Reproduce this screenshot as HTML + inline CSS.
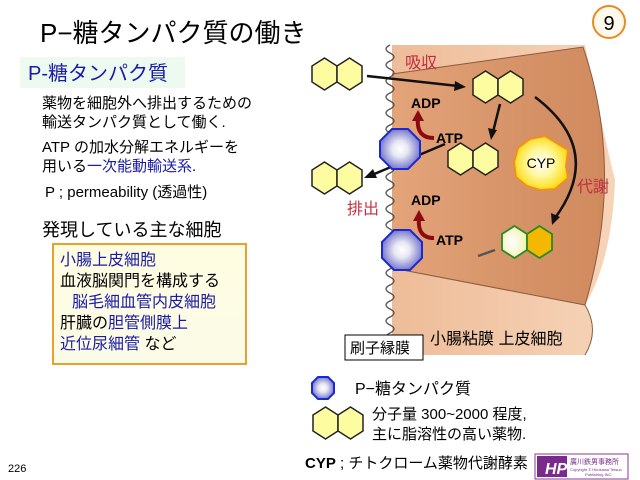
<!DOCTYPE html>
<html><head><meta charset="utf-8"><style>
html,body{margin:0;padding:0;background:#fff;width:640px;height:480px;overflow:hidden}
svg{display:block}
text{font-family:"Liberation Sans","Noto Sans CJK JP",sans-serif}
</style></head><body>
<svg width="640" height="480" viewBox="0 0 640 480" xmlns="http://www.w3.org/2000/svg">
<defs>
<radialGradient id="oct" cx="0.5" cy="0.5" r="0.55"><stop offset="0" stop-color="#ffffff"/><stop offset="0.35" stop-color="#e8e8f4"/><stop offset="1" stop-color="#6a6ac8"/></radialGradient>
<radialGradient id="cyp" cx="0.5" cy="0.5" r="0.55"><stop offset="0" stop-color="#ffffff"/><stop offset="0.45" stop-color="#fff8a0"/><stop offset="1" stop-color="#ffd800"/></radialGradient>
<radialGradient id="met" cx="0.4" cy="0.5" r="0.6"><stop offset="0" stop-color="#ffffff"/><stop offset="1" stop-color="#f2f2b0"/></radialGradient>
<linearGradient id="body" x1="0" y1="0" x2="1" y2="0"><stop offset="0" stop-color="#e4a47a"/><stop offset="0.5" stop-color="#d8956a"/><stop offset="1" stop-color="#d08a5e"/></linearGradient>
<linearGradient id="band" x1="0" y1="0" x2="1" y2="0"><stop offset="0" stop-color="#eebc98"/><stop offset="1" stop-color="#f6d4b8"/></linearGradient>
<linearGradient id="box" x1="0" y1="0" x2="0" y2="1"><stop offset="0" stop-color="#fffce0"/><stop offset="1" stop-color="#fbfbe8"/></linearGradient>
<g id="hx"><polygon points="0,-16 12.5,-8 12.5,8 0,16 -12.5,8 -12.5,-8"/></g>
</defs>

<text x="40" y="42" font-size="26" fill="#000">P−糖タンパク質の働き</text>
<circle cx="609" cy="22" r="16" fill="#fff8ec" stroke="#e88a20" stroke-width="2"/>
<text x="609" y="30" font-size="20" text-anchor="middle">9</text>

<rect x="20" y="57" width="165" height="31" fill="#ecfaf0"/>
<text x="28" y="80" font-size="20" fill="#1a1aa8">P-糖タンパク質</text>
<text x="42" y="108" font-size="15">薬物を細胞外へ排出するための</text>
<text x="42" y="127" font-size="15">輸送タンパク質として働く.</text>
<text x="42" y="152" font-size="15">ATP の加水分解エネルギーを</text>
<text x="42" y="171" font-size="15">用いる<tspan fill="#1a1aa8">一次能動輸送系</tspan>.</text>
<text x="45" y="197" font-size="15">P ; permeability (透過性)</text>
<text x="42" y="236" font-size="18">発現している主な細胞</text>

<rect x="53" y="244" width="193" height="120" fill="url(#box)" stroke="#e8a030" stroke-width="2"/>
<text font-size="16">
<tspan x="60" y="265" fill="#1a1aa8">小腸上皮細胞</tspan>
<tspan x="60" y="286">血液脳関門を構成する</tspan>
<tspan x="72" y="307" fill="#1a1aa8">脳毛細血管内皮細胞</tspan>
<tspan x="60" y="328">肝臓の<tspan fill="#1a1aa8">胆管側膜上</tspan></tspan>
<tspan x="60" y="349" fill="#1a1aa8">近位尿細管 <tspan fill="#000">など</tspan></tspan>
</text>
<text x="8" y="472" font-size="11">226</text>

<path d="M392,45 L585,45 Q605,140 615,180 Q612,260 585,305 Q600,330 585,355 L392,355 Z" fill="url(#band)"/>
<path d="M392,74 L583,47 Q625,170 585,305 L392,268 Z" fill="url(#body)"/>
<path d="M392,268 L585,305" stroke="#8a5a40" stroke-width="1" fill="none"/>
<path d="M392,74 L583,47 Q625,170 585,305" stroke="#8a5a40" stroke-width="1" fill="none"/>
<path d="M585,305 Q600,330 585,355" stroke="#8a5a40" stroke-width="1" fill="none"/>
<path d="M390,45 q-8,4 0,8 t0,8 t0,8 t0,8 t0,8 t0,8 t0,8 t0,8 t0,8 t0,8 t0,8 t0,8 t0,8 t0,8 t0,8 t0,8 t0,8 t0,8 t0,8 t0,8 t0,8 t0,8 t0,8 t0,8 t0,8 t0,8 t0,8 t0,8 t0,8 t0,8 t0,8 t0,8 t0,8 t0,8 t0,8 t0,8 t0,8 t0,8 t0,8" stroke="#555" stroke-width="1.3" fill="none"/>

<text x="405" y="68" font-size="16" fill="#c03040">吸収</text>
<text x="347" y="214" font-size="16" fill="#c03040">排出</text>
<text x="577" y="192" font-size="16" fill="#c03040">代謝</text>

<g fill="#fefca0" stroke="#222" stroke-width="1.5">
<use href="#hx" x="324.5" y="74"/><use href="#hx" x="349.5" y="74"/>
<use href="#hx" x="485.5" y="87"/><use href="#hx" x="510.5" y="87"/>
<use href="#hx" x="460.5" y="159"/><use href="#hx" x="485.5" y="159"/>
<use href="#hx" x="324.5" y="178"/><use href="#hx" x="349.5" y="178"/>
<use href="#hx" x="325.5" y="423"/><use href="#hx" x="350.5" y="423"/>
</g>
<g stroke="#2a8a20" stroke-width="1.8">
<use href="#hx" x="514.5" y="242" fill="url(#met)"/><use href="#hx" x="539.5" y="242" fill="#f5b800"/>
</g>

<g stroke="#111" stroke-width="2.5" fill="none">
<path d="M367,76 L458,86"/>
<path d="M500,104 L493,132"/>
<path d="M445,144 L372,175"/>
<path d="M535,97 Q605,150 555,218"/>
</g>
<g fill="#111">
<polygon points="466,87 455,81 454,91"/>
<polygon points="491,140 488,128 497,130"/>
<polygon points="364,178 373,169 377,178"/>
<polygon points="552,225 551,213 560,217"/>
</g>
<path d="M478,256 L495,250" stroke="#555" stroke-width="2.5"/>

<g stroke="#8a0a10" stroke-width="4" fill="none">
<path d="M434,138 Q416,138 418,118"/>
<path d="M434,238 Q417,238 419,218"/>
</g>
<g fill="#8a0a10">
<polygon points="418,110 412,121 424,121"/>
<polygon points="419,210 413,221 425,221"/>
</g>
<g font-size="14" font-weight="bold">
<text x="411" y="108">ADP</text>
<text x="436" y="143">ATP</text>
<text x="411" y="205">ADP</text>
<text x="436" y="245">ATP</text>
</g>

<g fill="url(#oct)" stroke="#1a2ad0" stroke-width="2">
<polygon points="392,129 408,129 420,141 420,157 408,169 392,169 380,157 380,141"/>
<polygon points="394,230 410,230 422,242 422,258 410,270 394,270 382,258 382,242"/>
<polygon points="318,377 328,377 334,383 334,393 328,399 318,399 312,393 312,383"/>
</g>

<polygon points="530,139 545,136 558,144 568,150 566,166 568,178 555,189 540,190 527,186 516,177 514,162 518,148" fill="url(#cyp)" stroke="#f09020" stroke-width="2"/>
<text x="541" y="168" font-size="14" text-anchor="middle">CYP</text>

<text x="430" y="344" font-size="16">小腸粘膜 上皮細胞</text>
<rect x="345" y="335" width="78" height="25" fill="#fff" stroke="#000" stroke-width="1"/>
<text x="350" y="353" font-size="15">刷子縁膜</text>

<text x="355" y="394" font-size="16">P−糖タンパク質</text>
<text x="372" y="419" font-size="15">分子量 300~2000 程度,</text>
<text x="372" y="439" font-size="15">主に脂溶性の高い薬物.</text>
<text x="305" y="468" font-size="15"><tspan font-weight="bold">CYP</tspan> ; チトクローム薬物代謝酵素</text>

<rect x="535" y="454" width="93" height="25" fill="#fff" stroke="#8a3a9a" stroke-width="1"/>
<rect x="537" y="456" width="30" height="21" fill="#7a2a8a"/>
<text x="545" y="474" font-size="16" font-weight="bold" font-style="italic" fill="#fff">HP</text>
<text x="570" y="464" font-size="7" fill="#7a2a8a">廣川鉄男事務所</text>
<text x="570" y="471" font-size="4" fill="#7a2a8a">Copyright © Hirokawa Tetsuo</text>
<text x="585" y="476" font-size="4" fill="#7a2a8a">Publishing INC.</text>
</svg>
</body></html>
